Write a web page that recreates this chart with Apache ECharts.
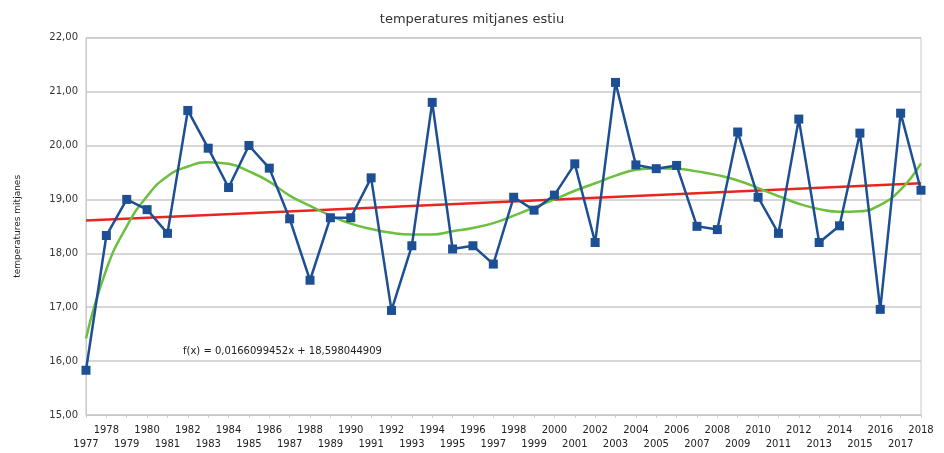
<!DOCTYPE html>
<html>
<head>
<meta charset="utf-8">
<script src="https://cdn.jsdelivr.net/npm/echarts@6/dist/echarts.min.js"></script>
<style>
  html, body { margin: 0; padding: 0; background: #fff; }
  #chart { width: 944px; height: 453px; }
</style>
</head>
<body>
<div id="chart"></div>
<script>
// anys
var years = [];
for (var y = 1977; y <= 2018; y++) years.push(String(y));

// temperatura mitjana d'estiu (llegida del gràfic)
var temps = [15.83, 18.33, 19.0, 18.81, 18.37, 20.65, 19.95, 19.22, 20.0, 19.58,
  18.64, 17.5, 18.66, 18.66, 19.4, 16.94, 18.14, 20.8, 18.08, 18.14,
  17.8, 19.04, 18.8, 19.08, 19.66, 18.2, 21.17, 19.64, 19.57, 19.63,
  18.5, 18.44, 20.25, 19.04, 18.37, 20.49, 18.2, 18.51, 20.23, 16.96,
  20.6, 19.17];

// tendència polinòmica (llegida del gràfic)
var polyTrend = [16.42, 17.7, 18.5, 19.06, 19.43, 19.61, 19.69, 19.66, 19.52, 19.33,
  19.07, 18.88, 18.7, 18.55, 18.45, 18.38, 18.35, 18.35, 18.41, 18.47,
  18.56, 18.7, 18.85, 19.0, 19.16, 19.3, 19.44, 19.55, 19.58, 19.57,
  19.52, 19.45, 19.35, 19.21, 19.06, 18.92, 18.82, 18.77, 18.78, 18.9,
  19.18, 19.67];

// tendència lineal: extrems
var linStart = 18.61;
var linEnd = 19.3;
var equation = "f(x) = 0,0166099452x + 18,598044909";

var linData = years.map(function (d, i) {
  if (i === 0) return linStart;
  if (i === years.length - 1) return linEnd;
  return null;
});

var chart = echarts.init(document.getElementById("chart"));
var option = {
  animation: false,
  title: {
    text: "temperatures mitjanes estiu",
    left: "center",
    top: 8,
    textStyle: { fontFamily: "DejaVu Sans", fontSize: 13, fontWeight: "normal", color: "#333" }
  },
  grid: {
    left: 86, right: 23, top: 37.7, bottom: 38,
    show: true, borderColor: "#c8c8c8", borderWidth: 1
  },
  xAxis: {
    type: "category",
    data: years,
    boundaryGap: false,
    axisLine: { lineStyle: { color: "#c8c8c8" } },
    axisTick: { show: true, interval: 0, length: 3, lineStyle: { color: "#d0d0d0" } },
    axisLabel: {
      interval: 0,
      color: "#222",
      fontFamily: "DejaVu Sans",
      fontSize: 10,
      lineHeight: 14,
      margin: 8,
      formatter: function (v, i) { return i % 2 === 0 ? "\n" + v : v; }
    }
  },
  yAxis: {
    type: "value",
    min: 15, max: 22, interval: 1,
    name: "temperatures mitjanes",
    nameLocation: "middle",
    nameRotate: 90,
    nameGap: 64,
    nameTextStyle: { fontFamily: "DejaVu Sans", fontSize: 9, color: "#222" },
    axisLine: { show: true, lineStyle: { color: "#c8c8c8" } },
    axisTick: { show: false },
    splitLine: { lineStyle: { color: "#c8c8c8", width: 1.5 } },
    axisLabel: {
      color: "#333",
      fontFamily: "DejaVu Sans",
      fontSize: 10,
      margin: 8,
      formatter: function (v) { return v.toFixed(2).replace(".", ","); }
    }
  },
  graphic: [{
    type: "text",
    left: 183, top: 346,
    style: { text: equation, fontFamily: "DejaVu Sans", fontSize: 10, fill: "#222" }
  }],
  series: [
    {
      name: "lineal",
      type: "line",
      data: linData,
      connectNulls: true,
      symbol: "none",
      lineStyle: { color: "#e8261e", width: 2.5 },
      z: 2
    },
    {
      name: "polinòmica",
      type: "line",
      data: polyTrend,
      smooth: true,
      symbol: "none",
      lineStyle: { color: "#6cbf3f", width: 2.5 },
      z: 3
    },
    {
      name: "temperatures",
      type: "line",
      data: temps,
      symbol: "rect",
      symbolSize: 9,
      itemStyle: { color: "#1c4f93" },
      lineStyle: { color: "#1c4f93", width: 2.5 },
      z: 4
    }
  ]
};
chart.setOption(option);
</script>
</body>
</html>
